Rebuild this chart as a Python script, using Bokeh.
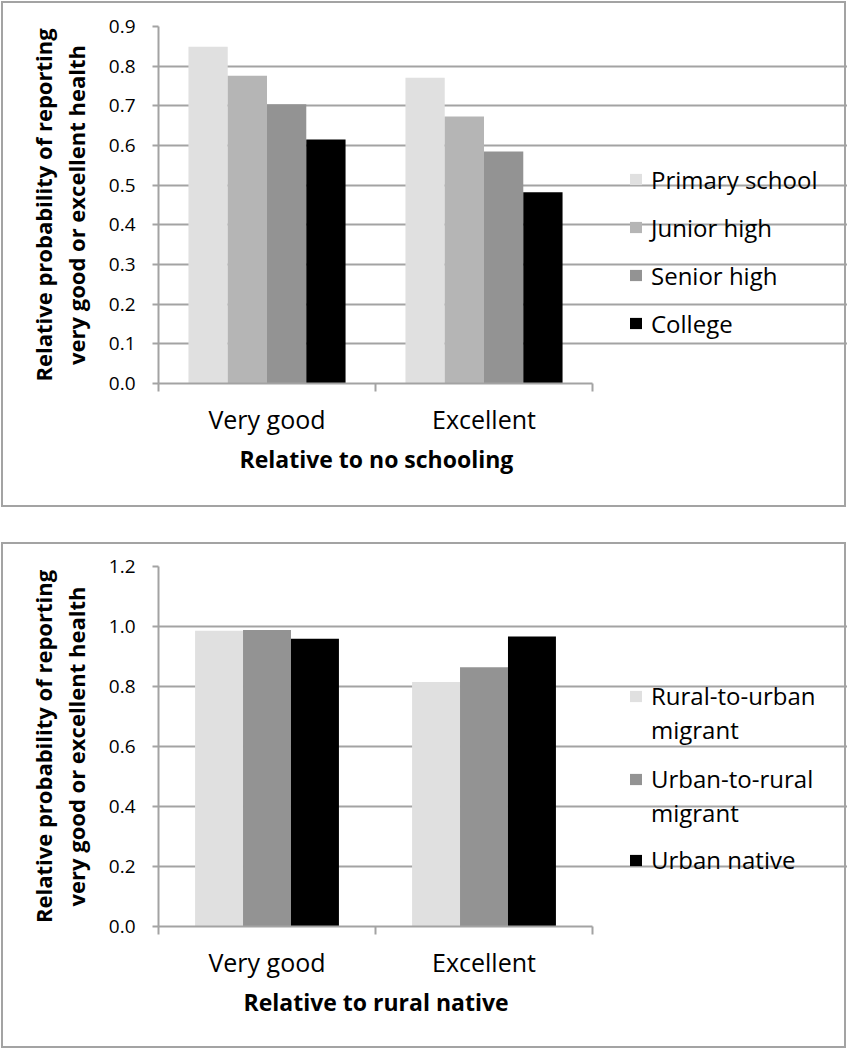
from bokeh.plotting import figure
from bokeh.models import (Range1d, FixedTicker, Legend, LegendItem, PrintfTickFormatter,
                          InlineStyleSheet, Title)
from bokeh.layouts import column
from bokeh.embed import file_html
from bokeh.resources import INLINE

# ---------------- data ----------------
categories = ["Very good", "Excellent"]

edu_names = ["Primary school", "Junior high", "Senior high", "College"]
primary_school = [0.849, 0.771]
junior_high = [0.776, 0.673]
senior_high = [0.704, 0.585]
college = [0.615, 0.482]
edu_colors = ["#e0e0e0", "#b5b5b5", "#939393", "#000000"]
edu_yticks = [0.0, 0.1, 0.2, 0.3, 0.4, 0.5, 0.6, 0.7, 0.8, 0.9]

mig_names = ["Rural-to-urban\nmigrant", "Urban-to-rural\nmigrant", "Urban native"]
rural_to_urban = [0.986, 0.815]
urban_to_rural = [0.988, 0.864]
urban_native = [0.959, 0.967]
mig_colors = ["#e0e0e0", "#939393", "#000000"]
mig_yticks = [0.0, 0.2, 0.4, 0.6, 0.8, 1.0, 1.2]

y_title = "Relative probability of reporting\nvery good or excellent health"

GRID = "#a3a3a3"
FONT = "Open Sans"

BORDER_CSS = """
:host { position: relative; }
:host::after {
  content: "";
  position: absolute;
  left: 1px; top: 1px; right: 1px; bottom: 1px;
  border: 2px solid #a3a3a3;
  pointer-events: none;
  z-index: 100;
}
"""

FIG_W = 847
LEFT = 158          # frame left (px)
CAT_SPAN = 434      # pixel span of the category axis


def make_panel(names, series, colors, yticks, xtitle, title_offset, bar_w, min_top,
               min_bottom, legend_groups, height):
    ncat = len(categories)
    frame_w = FIG_W - LEFT
    x_end = ncat * frame_w / CAT_SPAN
    p = figure(width=FIG_W, height=height, output_backend="svg", toolbar_location=None,
               x_range=Range1d(0, x_end), y_range=Range1d(yticks[0], yticks[-1]),
               min_border_left=LEFT, min_border_right=0,
               min_border_top=min_top, min_border_bottom=min_bottom)
    p.outline_line_color = None
    p.stylesheets = [InlineStyleSheet(css=BORDER_CSS)]

    n = len(series)
    renderers = []
    for i, (vals, col) in enumerate(zip(series, colors)):
        off = (i - (n - 1) / 2) * bar_w
        xs = [k + 0.5 + off for k in range(ncat)]
        r = p.vbar(x=xs, top=vals, bottom=0, width=bar_w, fill_color=col, line_color=None)
        renderers.append(r)
    blank = p.vbar(x=[], top=[], width=bar_w, fill_color=None, line_color=None)

    # y axis
    yt = FixedTicker(ticks=yticks)
    p.yaxis.ticker = yt
    p.yaxis.formatter = PrintfTickFormatter(format="%.1f")
    p.yaxis.axis_line_color = GRID
    p.yaxis.axis_line_width = 2
    p.yaxis.major_tick_line_color = GRID
    p.yaxis.major_tick_line_width = 2
    p.yaxis.major_tick_out = 6
    p.yaxis.major_tick_in = 0
    p.yaxis.minor_tick_line_color = None
    p.yaxis.major_label_text_font = FONT
    p.yaxis.major_label_text_font_size = "19px"
    p.yaxis.major_label_text_color = "#000000"
    p.yaxis.major_label_standoff = 17
    p.yaxis.axis_label = y_title
    p.yaxis.axis_label_text_font = FONT
    p.yaxis.axis_label_text_font_style = "bold"
    p.yaxis.axis_label_text_font_size = "22px"
    p.yaxis.axis_label_text_color = "#000000"
    p.yaxis.axis_label_text_line_height = 1.1
    p.yaxis.axis_label_standoff = 15

    p.ygrid.ticker = yt
    p.ygrid.bounds = (0, ncat)
    p.ygrid.grid_line_color = GRID
    p.ygrid.grid_line_width = 2
    p.xgrid.visible = False

    # x axis: labels at category centres, tick marks at boundaries
    centres = [k + 0.5 for k in range(ncat)]
    bounds = [k for k in range(ncat + 1)]
    p.xaxis.ticker = FixedTicker(ticks=centres, minor_ticks=bounds)
    p.xaxis.bounds = (0, ncat)
    p.xaxis.major_label_overrides = {c: lab for c, lab in zip(centres, categories)}
    p.xaxis.axis_line_color = GRID
    p.xaxis.axis_line_width = 2
    p.xaxis.major_tick_line_color = None
    p.xaxis.minor_tick_line_color = GRID
    p.xaxis.minor_tick_line_width = 2
    p.xaxis.minor_tick_out = 8
    p.xaxis.minor_tick_in = 0
    p.xaxis.major_label_text_font = FONT
    p.xaxis.major_label_text_font_size = "25px"
    p.xaxis.major_label_text_color = "#000000"
    p.xaxis.major_label_standoff = 10

    # x title, placed under the category span
    p.add_layout(Title(text=xtitle, align="left", offset=title_offset, text_font=FONT,
                       text_font_size="23px", text_font_style="bold",
                       text_color="#000000", standoff=4), "below")

    # legends (each wrapped label line is its own row; glyph beside the first line)
    for idxs, yloc, spacing in legend_groups:
        items = []
        for i in idxs:
            lines = names[i].split("\n")
            items.append(LegendItem(label=lines[0], renderers=[renderers[i]]))
            for extra in lines[1:]:
                items.append(LegendItem(label=extra, renderers=[blank]))
        lg = Legend(items=items, location=(470, yloc), padding=0, margin=0,
                    border_line_color=None, background_fill_alpha=0,
                    glyph_width=15, glyph_height=14, label_standoff=8, spacing=spacing,
                    label_text_font=FONT, label_text_font_size="24px",
                    label_text_color="#000000")
        p.add_layout(lg, "center")
    return p


p1 = make_panel(edu_names, [primary_school, junior_high, senior_high, college], edu_colors,
                edu_yticks, "Relative to no schooling", 81, 0.181, 26, 125,
                [([0, 1, 2, 3], 43.5, 15)], 508)
p2 = make_panel(mig_names, [rural_to_urban, urban_to_rural, urban_native], mig_colors,
                mig_yticks, "Relative to rural native", 85, 0.221, 25, 123,
                [([0], 180, 1), ([1], 97, 1), ([2], 50, 1)], 508)

layout = column(p1, p2, spacing=33)
open("out.html", "w").write(file_html(layout, INLINE))
